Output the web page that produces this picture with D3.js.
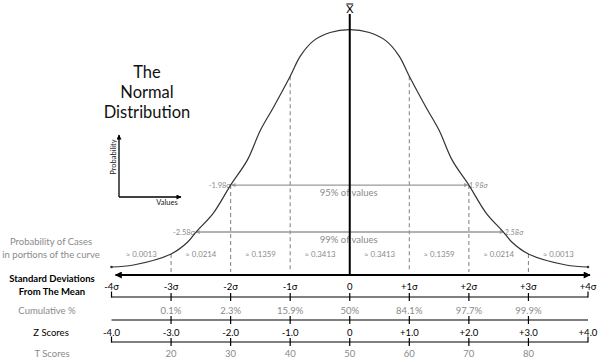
<!DOCTYPE html>
<html><head><meta charset="utf-8">
<script src="https://cdn.jsdelivr.net/npm/d3@7"></script>
<style>
html,body{margin:0;padding:0;background:#fff;}
svg{display:block;font-family:"Lato","Open Sans",sans-serif;}
</style></head>
<body>
<script>
// ---- data ----
const curveSigma   = [-4, -3.63, -3, -2.72, -2.58, -2.29, -2, -1.72, -1.5, -1.28, -1, -0.83, -0.61, -0.33, 0, 0.33, 0.61, 0.83, 1, 1.28, 1.5, 1.72, 2, 2.29, 2.58, 2.72, 3, 3.63, 4];
const curveDensity = [0.000, 0.0034, 0.0218, 0.0419, 0.0587, 0.0905, 0.1374, 0.1793, 0.2296, 0.2682, 0.3201, 0.3540, 0.3795, 0.3935, 0.3984, 0.3935, 0.3795, 0.3540, 0.3201, 0.2682, 0.2296, 0.1793, 0.1374, 0.0905, 0.0587, 0.0419, 0.0218, 0.0034, 0.000];
const dashSigma = [-3, -2, -1, 1, 2, 3];
const bandCenters = [-3.5, -2.5, -1.5, -0.5, 0.5, 1.5, 2.5, 3.5];
const bandProbs = ["≈ 0.0013", "≈ 0.0214", "≈ 0.1359", "≈ 0.3413", "≈ 0.3413", "≈ 0.1359", "≈ 0.0214", "≈ 0.0013"];
const intervals = [
  {label: "95% of values", lo: -1.98, hi: 1.98, density: 0.1374, loText: "-1.98σ", hiText: "1.98σ"},
  {label: "99% of values", lo: -2.58, hi: 2.58, density: 0.0587, loText: "-2.58σ", hiText: "2.58σ"}
];
const sdTicks = [-4, -3, -2, -1, 0, 1, 2, 3, 4];
const sdLabels = ["-4σ", "-3σ", "-2σ", "-1σ", "0", "+1σ", "+2σ", "+3σ", "+4σ"];
const cumTicks = [-3, -2, -1, 0, 1, 2, 3];
const cumLabels = ["0.1%", "2.3%", "15.9%", "50%", "84.1%", "97.7%", "99.9%"];
const zLabels = ["-4.0", "-3.0", "-2.0", "-1.0", "0", "+1.0", "+2.0", "+3.0", "+4.0"];
const tTicks = [-3, -2, -1, 0, 1, 2, 3];
const tLabels = ["20", "30", "40", "50", "60", "70", "80"];
const titleLines = ["The", "Normal", "Distribution"];

// ---- drawing ----
const W = 600, H = 362;
const svg = d3.select("body").append("svg").attr("width", W).attr("height", H);
const x = d3.scaleLinear().domain([-4, 4]).range([111.5, 588]);
const y = d3.scaleLinear().domain([0, 0.3989]).range([267, 29.3]);
const GRAY = "#8a8a8a";

const defs = svg.append("defs");
function marker(id, w, h, color) {
  defs.append("marker").attr("id", id).attr("viewBox", "0 0 10 10")
    .attr("refX", 9).attr("refY", 5).attr("markerUnits", "userSpaceOnUse")
    .attr("markerWidth", w).attr("markerHeight", h).attr("orient", "auto-start-reverse")
    .append("path").attr("d", "M0,0L10,5L0,10z").attr("fill", color);
}
marker("bigArrow", 11, 7, "#000");
marker("smallArrow", 6, 5, "#000");
marker("grayArrow", 5, 4, "#999");

// title
svg.append("g").selectAll("text").data(titleLines).join("text")
  .attr("x", 147).attr("y", (d, i) => 78 + i * 20)
  .attr("text-anchor", "middle").attr("font-size", 16.5).attr("fill", "#111").text(d => d);

// inset axes
svg.append("path").attr("d", "M119,197V135").attr("stroke", "#000").attr("stroke-width", 1.3)
  .attr("fill", "none").attr("marker-end", "url(#smallArrow)");
svg.append("path").attr("d", "M119,197H181").attr("stroke", "#000").attr("stroke-width", 1.3)
  .attr("fill", "none").attr("marker-end", "url(#smallArrow)");
svg.append("text").attr("transform", "translate(116,157) rotate(-90)").attr("text-anchor", "middle")
  .attr("font-size", 7.5).attr("fill", "#222").text("Probability");
svg.append("text").attr("x", 167).attr("y", 205).attr("text-anchor", "middle")
  .attr("font-size", 7.5).attr("fill", "#222").text("Values");

// dashed sigma lines
svg.append("g").selectAll("line").data(dashSigma).join("line")
  .attr("x1", d => x(d)).attr("x2", d => x(d))
  .attr("y1", d => y(curveDensity[curveSigma.indexOf(d)]))
  .attr("y2", 272)
  .attr("stroke", GRAY).attr("stroke-width", 1.1).attr("stroke-dasharray", "4,3");

// interval lines
const iv = svg.append("g").selectAll("g").data(intervals).join("g");
iv.append("line").attr("x1", d => x(d.lo)).attr("x2", d => x(d.hi))
  .attr("y1", d => y(d.density)).attr("y2", d => y(d.density))
  .attr("stroke", "#999").attr("stroke-width", 1.4)
  .attr("marker-start", "url(#grayArrow)").attr("marker-end", "url(#grayArrow)");
iv.append("text").attr("x", x(0) - 1).attr("y", d => y(d.density) + 11)
  .attr("text-anchor", "middle").attr("font-size", 9.5).attr("fill", GRAY).text(d => d.label);
iv.append("text").attr("x", d => x(d.lo) - 1).attr("y", d => y(d.density) + 3)
  .attr("text-anchor", "end").attr("font-size", 7.5).attr("fill", GRAY).text(d => d.loText);
iv.append("text").attr("x", d => x(d.hi) + 1).attr("y", d => y(d.density) + 3)
  .attr("text-anchor", "start").attr("font-size", 7.5).attr("font-style", "italic")
  .attr("fill", GRAY).text(d => d.hiText);

// probability band labels
svg.append("g").selectAll("text").data(bandCenters).join("text")
  .attr("x", d => x(d)).attr("y", 257).attr("text-anchor", "middle")
  .attr("font-size", 7.8).attr("fill", GRAY).text((d, i) => bandProbs[i]);

// curve
const pts = curveSigma.map((s, i) => [s, curveDensity[i]]);
svg.append("path").datum(pts)
  .attr("d", d3.line().x(d => x(d[0])).y(d => y(d[1])).curve(d3.curveCatmullRom.alpha(0.5)))
  .attr("fill", "none").attr("stroke", "#333").attr("stroke-width", 1.2);
svg.append("circle").attr("cx", x(-4)).attr("cy", y(0)).attr("r", 1.3).attr("fill", "#333");
svg.append("circle").attr("cx", x(4)).attr("cy", y(0)).attr("r", 1.3).attr("fill", "#333");

// main axis
svg.append("line").attr("x1", x(-4) + 4).attr("x2", x(4) + 2).attr("y1", 275).attr("y2", 275)
  .attr("stroke", "#000").attr("stroke-width", 2)
  .attr("marker-start", "url(#bigArrow)").attr("marker-end", "url(#bigArrow)");
// mean line
svg.append("line").attr("x1", x(0)).attr("x2", x(0)).attr("y1", 14).attr("y2", 276)
  .attr("stroke", "#000").attr("stroke-width", 2);
svg.append("text").attr("x", x(0)).attr("y", 13).attr("text-anchor", "middle")
  .attr("font-size", 11).attr("fill", "#000").text("X");
svg.append("line").attr("x1", x(0) - 3.5).attr("x2", x(0) + 3.5).attr("y1", 4).attr("y2", 4)
  .attr("stroke", "#000").attr("stroke-width", 1);

// left labels
const leftLabels = [
  {t: "Probability of Cases", y: 245, c: GRAY, w: 400, x: 51},
  {t: "in portions of the curve", y: 258, c: GRAY, w: 400, x: 51},
  {t: "Standard Deviations", y: 282, c: "#000", w: 700, x: 52},
  {t: "From The Mean", y: 295, c: "#000", w: 700, x: 52},
  {t: "Cumulative %", y: 314, c: GRAY, w: 400, x: 47},
  {t: "Z Scores", y: 336, c: "#000", w: 400, x: 51},
  {t: "T Scores", y: 357, c: GRAY, w: 400, x: 52}
];
svg.append("g").selectAll("text").data(leftLabels).join("text")
  .attr("x", d => d.x).attr("y", d => d.y).attr("text-anchor", "middle")
  .attr("font-size", 9.5).attr("font-weight", d => d.w).attr("fill", d => d.c).text(d => d.t);

// scale rows
function row(ticks, labels, ly, color) {
  svg.append("g").selectAll("text").data(ticks).join("text")
    .attr("x", d => x(d)).attr("y", ly).attr("text-anchor", "middle")
    .attr("font-size", 9.5).attr("fill", color).text((d, i) => labels[i]);
}
row(sdTicks, sdLabels, 290, "#000");
row(cumTicks, cumLabels, 314, GRAY);
row(sdTicks, zLabels, 336, "#000");
row(tTicks, tLabels, 357, GRAY);

function rule(yy, caps) {
  const g = svg.append("g").attr("stroke", "#000").attr("stroke-width", 1.2);
  g.append("line").attr("x1", x(-4)).attr("x2", x(4)).attr("y1", yy).attr("y2", yy);
  g.selectAll("line.t").data(cumTicks).join("line").attr("class", "t")
    .attr("x1", d => x(d)).attr("x2", d => x(d)).attr("y1", yy - 4).attr("y2", yy + 4);
  if (caps) {
    g.selectAll("line.c").data([-4, 4]).join("line").attr("class", "c")
      .attr("x1", d => x(d)).attr("x2", d => x(d)).attr("y1", yy - 5.5).attr("y2", yy + 0.6);
  }
}
rule(297, true);
rule(320, false);
rule(342, true);
</script>
</body></html>
